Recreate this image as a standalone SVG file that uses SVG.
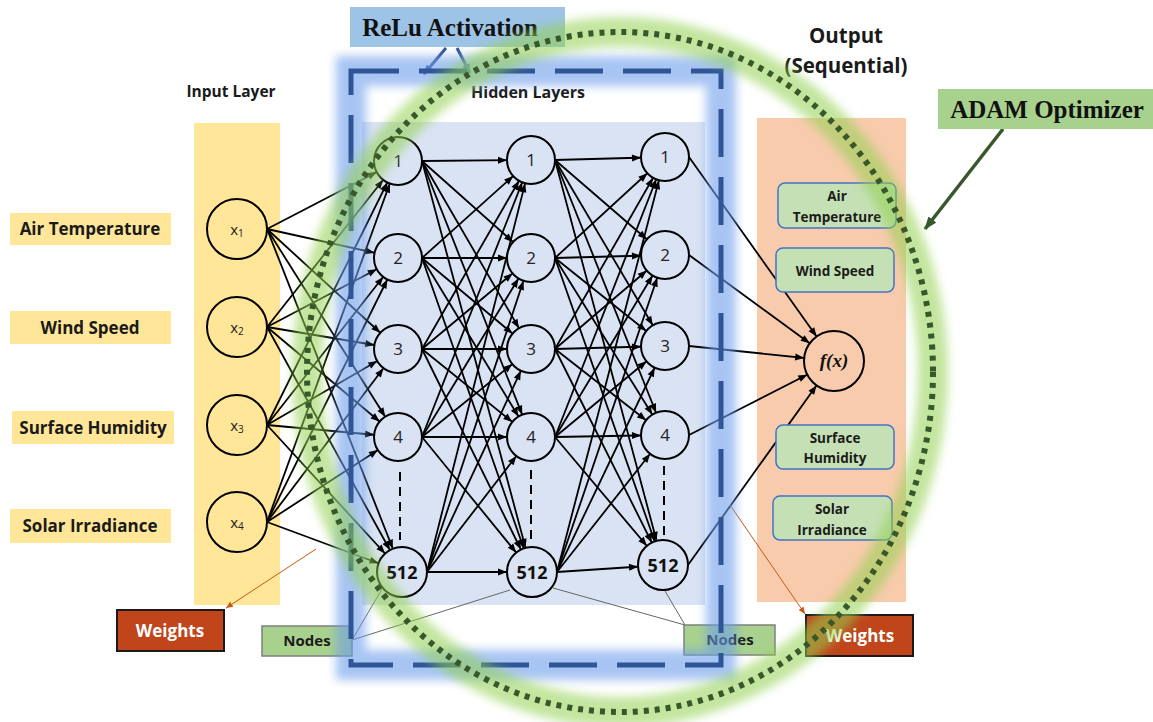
<svg xmlns="http://www.w3.org/2000/svg" width="1153" height="722" viewBox="0 0 1153 722">
  <style>
    .serif{font-family:"Liberation Serif","Times New Roman",serif}
    .lbl{font-family:"Open Sans","Liberation Sans",sans-serif;font-weight:700;fill:#1a1a1a;text-anchor:middle}
    .c{stroke:#000;stroke-width:1.8;fill:none;marker-end:url(#a24)}
    .c5{marker-end:url(#a25)}
    .cf{marker-end:url(#a30)}
    .in{fill:#ffe699;stroke:#000;stroke-width:2}
    .hn{fill:#dae3f3;stroke:#000;stroke-width:2}
    .num{font-family:"Open Sans","Liberation Sans",sans-serif;font-size:17px;text-anchor:middle;fill:#222}
    .big{font-family:"Open Sans","Liberation Sans",sans-serif;font-size:18px;font-weight:700;text-anchor:middle;fill:#111}
    .xv{font-family:"Open Sans","Liberation Sans",sans-serif;font-size:15px;text-anchor:middle;fill:#222}
    .dots{stroke:#000;stroke-width:2;stroke-dasharray:9 6}
    .outbox{fill:#c5e0b4;stroke:#4472c4;stroke-width:1.5}
    .ob{font-family:"Open Sans","Liberation Sans",sans-serif;font-weight:700;font-size:13.5px;text-anchor:middle;fill:#1a1a1a}
    .wt{fill:#c0451b;stroke:#1a1a1a;stroke-width:2}
    .wtt{font-family:"Open Sans","Liberation Sans",sans-serif;font-weight:700;font-size:17px;text-anchor:middle;fill:#fff}
    .nd{fill:#a9d18e;stroke:#7f7f7f;stroke-width:1.5}
    .ndt{font-family:"Open Sans","Liberation Sans",sans-serif;font-weight:700;font-size:15px;text-anchor:middle;fill:#1a1a1a}
    .thin{stroke:#666;stroke-width:1;fill:none}
    .red{stroke:#c55a11;stroke-width:1;fill:none;marker-end:url(#ared)}
  </style>
  <defs>
    <marker id="a24" markerUnits="userSpaceOnUse" markerWidth="9" markerHeight="7" refX="33" refY="3.5" orient="auto" overflow="visible">
      <path d="M0,0 L9,3.5 L0,7 z" fill="#000"/>
    </marker>
    <marker id="a25" markerUnits="userSpaceOnUse" markerWidth="9" markerHeight="7" refX="34" refY="3.5" orient="auto" overflow="visible">
      <path d="M0,0 L9,3.5 L0,7 z" fill="#000"/>
    </marker>
    <marker id="a30" markerUnits="userSpaceOnUse" markerWidth="9" markerHeight="7" refX="39" refY="3.5" orient="auto" overflow="visible">
      <path d="M0,0 L9,3.5 L0,7 z" fill="#000"/>
    </marker>
    <marker id="ared" markerUnits="userSpaceOnUse" markerWidth="7" markerHeight="6" refX="7" refY="3" orient="auto">
      <path d="M0,0 L7,3 L0,6 z" fill="#c55a11"/>
    </marker>
    <marker id="ablue" markerUnits="userSpaceOnUse" markerWidth="10" markerHeight="8" refX="9" refY="4" orient="auto">
      <path d="M0,0 L10,4 L0,8 z" fill="#2f5597"/>
    </marker>
    <marker id="agreen" markerUnits="userSpaceOnUse" markerWidth="13" markerHeight="10" refX="12" refY="5" orient="auto">
      <path d="M0,0 L13,5 L0,10 z" fill="#38572a"/>
    </marker>
    <filter id="soft" x="-20%" y="-20%" width="140%" height="140%">
      <feGaussianBlur stdDeviation="5"/>
    </filter>
  </defs>

  <rect width="1153" height="722" fill="#fff"/>

  <!-- column panels -->
  <g id="panels">
    <rect x="194" y="123" width="86" height="482" fill="#ffe699"/>
    <rect x="362" y="122" width="343" height="483" fill="#dae3f3"/>
    <rect x="757" y="118" width="149" height="484" fill="#f8cbad"/>
  </g>

  <!-- headings -->
  <g id="headings">
    <text class="lbl" x="231" y="97" font-size="15.5">Input Layer</text>
    <text class="lbl" x="528" y="98" font-size="16">Hidden Layers</text>
    <text class="lbl" x="846" y="43" font-size="20.5" fill="#111">Output</text>
    <text class="lbl" x="846" y="73" font-size="20.5" fill="#111">(Sequential)</text>
  </g>

  <!-- input feature labels -->
  <g id="feature-labels">
    <rect x="10" y="213" width="161" height="32" fill="#ffe699"/>
    <text class="lbl" x="90" y="235" font-size="17">Air Temperature</text>
    <rect x="10" y="311" width="161" height="33" fill="#ffe699"/>
    <text class="lbl" x="90" y="334" font-size="17">Wind Speed</text>
    <rect x="12" y="411" width="162" height="33" fill="#ffe699"/>
    <text class="lbl" x="93" y="434" font-size="17">Surface Humidity</text>
    <rect x="10" y="509" width="161" height="34" fill="#ffe699"/>
    <text class="lbl" x="90" y="532" font-size="17">Solar Irradiance</text>
  </g>

  <!-- connectors -->
  <g id="connectors">
    <!-- input -> hidden 1 -->
    <line class="c" x1="267" y1="229" x2="398" y2="161"/>
    <line class="c" x1="267" y1="229" x2="398" y2="258"/>
    <line class="c" x1="267" y1="229" x2="398" y2="349"/>
    <line class="c" x1="267" y1="229" x2="398" y2="437"/>
    <line class="c c5" x1="267" y1="229" x2="402" y2="572"/>
    <line class="c" x1="267" y1="327" x2="398" y2="161"/>
    <line class="c" x1="267" y1="327" x2="398" y2="258"/>
    <line class="c" x1="267" y1="327" x2="398" y2="349"/>
    <line class="c" x1="267" y1="327" x2="398" y2="437"/>
    <line class="c c5" x1="267" y1="327" x2="402" y2="572"/>
    <line class="c" x1="267" y1="425" x2="398" y2="161"/>
    <line class="c" x1="267" y1="425" x2="398" y2="258"/>
    <line class="c" x1="267" y1="425" x2="398" y2="349"/>
    <line class="c" x1="267" y1="425" x2="398" y2="437"/>
    <line class="c c5" x1="267" y1="425" x2="402" y2="572"/>
    <line class="c" x1="267" y1="522" x2="398" y2="161"/>
    <line class="c" x1="267" y1="522" x2="398" y2="258"/>
    <line class="c" x1="267" y1="522" x2="398" y2="349"/>
    <line class="c" x1="267" y1="522" x2="398" y2="437"/>
    <line class="c c5" x1="267" y1="522" x2="402" y2="572"/>
    <!-- hidden 1 -> hidden 2 -->
    <line class="c" x1="422" y1="161" x2="531" y2="160"/>
    <line class="c" x1="422" y1="161" x2="531" y2="258"/>
    <line class="c" x1="422" y1="161" x2="531" y2="349"/>
    <line class="c" x1="422" y1="161" x2="531" y2="437"/>
    <line class="c c5" x1="422" y1="161" x2="532" y2="572"/>
    <line class="c" x1="422" y1="258" x2="531" y2="160"/>
    <line class="c" x1="422" y1="258" x2="531" y2="258"/>
    <line class="c" x1="422" y1="258" x2="531" y2="349"/>
    <line class="c" x1="422" y1="258" x2="531" y2="437"/>
    <line class="c c5" x1="422" y1="258" x2="532" y2="572"/>
    <line class="c" x1="422" y1="349" x2="531" y2="160"/>
    <line class="c" x1="422" y1="349" x2="531" y2="258"/>
    <line class="c" x1="422" y1="349" x2="531" y2="349"/>
    <line class="c" x1="422" y1="349" x2="531" y2="437"/>
    <line class="c c5" x1="422" y1="349" x2="532" y2="572"/>
    <line class="c" x1="422" y1="437" x2="531" y2="160"/>
    <line class="c" x1="422" y1="437" x2="531" y2="258"/>
    <line class="c" x1="422" y1="437" x2="531" y2="349"/>
    <line class="c" x1="422" y1="437" x2="531" y2="437"/>
    <line class="c c5" x1="422" y1="437" x2="532" y2="572"/>
    <line class="c" x1="427" y1="572" x2="531" y2="160"/>
    <line class="c" x1="427" y1="572" x2="531" y2="258"/>
    <line class="c" x1="427" y1="572" x2="531" y2="349"/>
    <line class="c" x1="427" y1="572" x2="531" y2="437"/>
    <line class="c c5" x1="427" y1="572" x2="532" y2="572"/>
    <!-- hidden 2 -> hidden 3 -->
    <line class="c" x1="555" y1="160" x2="665" y2="157"/>
    <line class="c" x1="555" y1="160" x2="665" y2="255"/>
    <line class="c" x1="555" y1="160" x2="665" y2="346"/>
    <line class="c" x1="555" y1="160" x2="665" y2="435"/>
    <line class="c c5" x1="555" y1="160" x2="663" y2="565"/>
    <line class="c" x1="555" y1="258" x2="665" y2="157"/>
    <line class="c" x1="555" y1="258" x2="665" y2="255"/>
    <line class="c" x1="555" y1="258" x2="665" y2="346"/>
    <line class="c" x1="555" y1="258" x2="665" y2="435"/>
    <line class="c c5" x1="555" y1="258" x2="663" y2="565"/>
    <line class="c" x1="555" y1="349" x2="665" y2="157"/>
    <line class="c" x1="555" y1="349" x2="665" y2="255"/>
    <line class="c" x1="555" y1="349" x2="665" y2="346"/>
    <line class="c" x1="555" y1="349" x2="665" y2="435"/>
    <line class="c c5" x1="555" y1="349" x2="663" y2="565"/>
    <line class="c" x1="555" y1="437" x2="665" y2="157"/>
    <line class="c" x1="555" y1="437" x2="665" y2="255"/>
    <line class="c" x1="555" y1="437" x2="665" y2="346"/>
    <line class="c" x1="555" y1="437" x2="665" y2="435"/>
    <line class="c c5" x1="555" y1="437" x2="663" y2="565"/>
    <line class="c" x1="557" y1="572" x2="665" y2="157"/>
    <line class="c" x1="557" y1="572" x2="665" y2="255"/>
    <line class="c" x1="557" y1="572" x2="665" y2="346"/>
    <line class="c" x1="557" y1="572" x2="665" y2="435"/>
    <line class="c c5" x1="557" y1="572" x2="663" y2="565"/>
    <!-- hidden 3 -> output -->
    <line class="c cf" x1="689" y1="157" x2="834" y2="361"/>
    <line class="c cf" x1="689" y1="255" x2="834" y2="361"/>
    <line class="c cf" x1="689" y1="346" x2="834" y2="361"/>
    <line class="c cf" x1="689" y1="435" x2="834" y2="361"/>
    <line class="c cf" x1="688" y1="565" x2="834" y2="361"/>
    <!-- annotation leaders -->
    <line class="thin" x1="352" y1="640" x2="382" y2="589"/>
    <line class="thin" x1="352" y1="640" x2="510" y2="590"/>
    <line class="thin" x1="685" y1="625" x2="553" y2="588"/>
    <line class="thin" x1="685" y1="625" x2="665" y2="591"/>
    <line class="red" x1="316" y1="549" x2="226" y2="608"/>
    <line class="red" x1="730" y1="505" x2="805" y2="614"/>
    <line x1="446" y1="48" x2="424" y2="74" stroke="#2f5597" stroke-width="3" marker-end="url(#ablue)"/>
    <line x1="457" y1="48" x2="470" y2="73" stroke="#2f5597" stroke-width="3" marker-end="url(#ablue)"/>
    <line x1="1003" y1="129" x2="925" y2="229" stroke="#38572a" stroke-width="3.5" marker-end="url(#agreen)"/>
  </g>

  <!-- input nodes -->
  <g id="input-nodes">
    <g id="x1"><circle class="in" cx="237" cy="229" r="30"/><text class="xv" x="237" y="235">x<tspan font-size="10" dy="2">1</tspan></text></g>
    <g id="x2"><circle class="in" cx="237" cy="327" r="30"/><text class="xv" x="237" y="333">x<tspan font-size="10" dy="2">2</tspan></text></g>
    <g id="x3"><circle class="in" cx="237" cy="425" r="30"/><text class="xv" x="237" y="431">x<tspan font-size="10" dy="2">3</tspan></text></g>
    <g id="x4"><circle class="in" cx="237" cy="522" r="30"/><text class="xv" x="237" y="528">x<tspan font-size="10" dy="2">4</tspan></text></g>
  </g>

  <!-- hidden layer 1 -->
  <g id="hidden-1">
    <line class="dots" x1="400" y1="472" x2="400" y2="540"/>
    <g id="h1-1"><circle class="hn" cx="398" cy="161" r="24"/><text class="num" x="398" y="167">1</text></g>
    <g id="h1-2"><circle class="hn" cx="398" cy="258" r="24"/><text class="num" x="398" y="264">2</text></g>
    <g id="h1-3"><circle class="hn" cx="398" cy="349" r="24"/><text class="num" x="398" y="355">3</text></g>
    <g id="h1-4"><circle class="hn" cx="398" cy="437" r="24"/><text class="num" x="398" y="443">4</text></g>
    <g id="h1-512"><circle class="hn" cx="402" cy="572" r="25"/><text class="big" x="402" y="579">512</text></g>
  </g>

  <!-- hidden layer 2 -->
  <g id="hidden-2">
    <line class="dots" x1="531" y1="470" x2="531" y2="545"/>
    <g id="h2-1"><circle class="hn" cx="531" cy="160" r="24"/><text class="num" x="531" y="166">1</text></g>
    <g id="h2-2"><circle class="hn" cx="531" cy="258" r="24"/><text class="num" x="531" y="264">2</text></g>
    <g id="h2-3"><circle class="hn" cx="531" cy="349" r="24"/><text class="num" x="531" y="355">3</text></g>
    <g id="h2-4"><circle class="hn" cx="531" cy="437" r="24"/><text class="num" x="531" y="443">4</text></g>
    <g id="h2-512"><circle class="hn" cx="532" cy="572" r="25"/><text class="big" x="532" y="579">512</text></g>
  </g>

  <!-- hidden layer 3 -->
  <g id="hidden-3">
    <line class="dots" x1="664" y1="466" x2="664" y2="538"/>
    <g id="h3-1"><circle class="hn" cx="665" cy="157" r="24"/><text class="num" x="665" y="163">1</text></g>
    <g id="h3-2"><circle class="hn" cx="665" cy="255" r="24"/><text class="num" x="665" y="261">2</text></g>
    <g id="h3-3"><circle class="hn" cx="665" cy="346" r="24"/><text class="num" x="665" y="352">3</text></g>
    <g id="h3-4"><circle class="hn" cx="665" cy="435" r="24"/><text class="num" x="665" y="441">4</text></g>
    <g id="h3-512"><circle class="hn" cx="663" cy="565" r="25"/><text class="big" x="663" y="572">512</text></g>
  </g>

  <!-- output node -->
  <g id="output-node">
    <circle cx="834" cy="361" r="30" fill="#f8cbad" stroke="#000" stroke-width="2"/>
    <text class="serif" x="834" y="367" font-size="19" font-style="italic" font-weight="700" text-anchor="middle" fill="#111">f(x)</text>
  </g>

  <!-- output feature boxes -->
  <g id="out-air"><rect class="outbox" x="778" y="183" width="118" height="45" rx="7"/><text class="ob" x="837" y="201">Air</text><text class="ob" x="837" y="222">Temperature</text></g>
  <g id="out-wind"><rect class="outbox" x="776" y="248" width="118" height="44" rx="7"/><text class="ob" x="835" y="276">Wind Speed</text></g>
  <g id="out-hum"><rect class="outbox" x="776" y="425" width="118" height="44" rx="7"/><text class="ob" x="835" y="443">Surface</text><text class="ob" x="835" y="463">Humidity</text></g>
  <g id="out-sol"><rect class="outbox" x="773" y="496" width="119" height="44" rx="7"/><text class="ob" x="832" y="514">Solar</text><text class="ob" x="832" y="535">Irradiance</text></g>

  <!-- annotation boxes -->
  <g id="weights-left"><rect class="wt" x="117" y="610" width="107" height="41"/><text class="wtt" x="170" y="637">Weights</text></g>
  <g id="weights-right"><rect class="wt" x="806" y="615" width="107" height="41"/><text class="wtt" x="860" y="642">Weights</text></g>
  <g id="nodes-left"><rect class="nd" x="262" y="626" width="90" height="30"/><text class="ndt" x="307" y="646">Nodes</text></g>
  <g id="nodes-right"><rect class="nd" x="684" y="625" width="91" height="30"/><text class="ndt" x="730" y="645">Nodes</text></g>

  <g id="relu">
    <rect x="350" y="7" width="215" height="40" fill="#9dc3e6"/>
    <text class="serif" x="450" y="36" font-size="25" font-weight="700" text-anchor="middle" fill="#111">ReLu Activation</text>
  </g>
  <g id="adam">
    <rect x="938" y="89" width="215" height="40" fill="#a9d18e"/>
    <text class="serif" x="1047" y="118" font-size="25" font-weight="700" text-anchor="middle" fill="#111">ADAM Optimizer</text>
  </g>

  <!-- activation region (dashed frame with halo) -->
  <g id="activation-frame">
    <rect x="351" y="71" width="370" height="594" fill="none" stroke="#6d9eeb" stroke-width="30" opacity="0.6" filter="url(#soft)"/>
    <rect x="351" y="71" width="370" height="594" fill="none" stroke="#2f5597" stroke-width="5" stroke-dasharray="48 20"/>
  </g>

  <!-- optimizer region (dotted ellipse with halo) -->
  <g id="optimizer-ring">
    <ellipse cx="620" cy="372" rx="313" ry="340" fill="none" stroke="#92d050" stroke-width="30" opacity="0.55" filter="url(#soft)"/>
    <ellipse cx="620" cy="372" rx="313" ry="340" fill="none" stroke="#38572a" stroke-width="6" stroke-dasharray="5 6"/>
  </g>
</svg>
